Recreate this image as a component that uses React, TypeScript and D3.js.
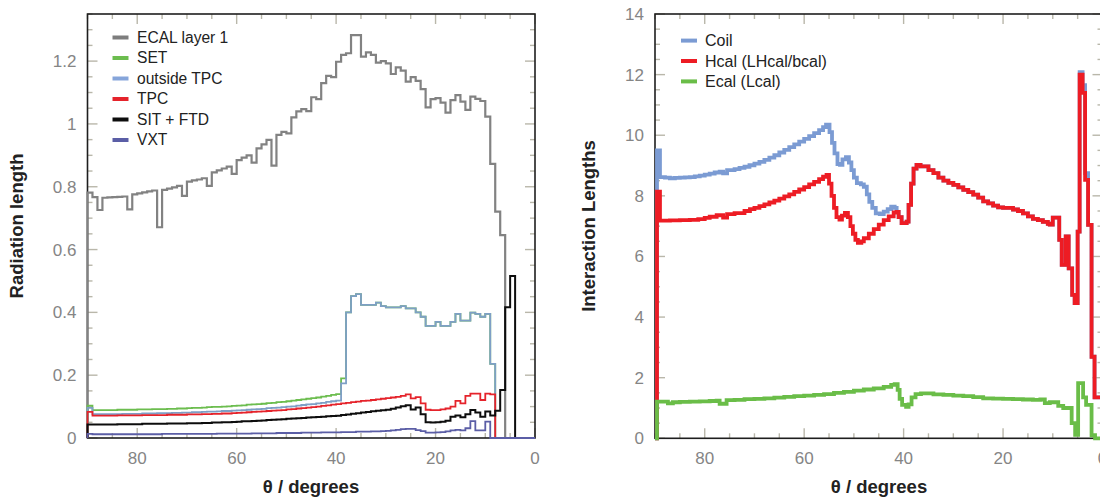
import React from 'react';
import * as d3 from 'd3';

const FONT = '"Liberation Sans", Arial, Helvetica, sans-serif';

// ---------------- Left panel: radiation length, 1-degree bins from 90 deg down to 0 deg ----------------
const ecalLayer1 = [
  0.781, 0.767, 0.726, 0.765, 0.766, 0.767, 0.768, 0.769, 0.728, 0.776,
  0.779, 0.782, 0.785, 0.788, 0.671, 0.790, 0.794, 0.798, 0.803, 0.771,
  0.816, 0.820, 0.823, 0.827, 0.803, 0.846, 0.852, 0.858, 0.864, 0.841,
  0.885, 0.893, 0.900, 0.877, 0.922, 0.935, 0.949, 0.867, 0.965, 0.975,
  0.970, 1.021, 1.040, 1.047, 1.041, 1.085, 1.079, 1.130, 1.153, 1.149,
  1.198, 1.220, 1.225, 1.283, 1.283, 1.214, 1.228, 1.220, 1.195, 1.200,
  1.193, 1.159, 1.180, 1.170, 1.135, 1.149, 1.137, 1.111, 1.053, 1.079,
  1.082, 1.068, 1.036, 1.076, 1.092, 1.071, 1.045, 1.087, 1.080, 1.073,
  1.023, 0.873, 0.721, 0.646, 0, 0, 0, 0, 0, 0,
];
const setValues = [
  0.103, 0.089, 0.089, 0.089, 0.089, 0.089, 0.090, 0.090, 0.090, 0.090,
  0.091, 0.091, 0.091, 0.092, 0.092, 0.092, 0.093, 0.093, 0.094, 0.094,
  0.095, 0.096, 0.096, 0.097, 0.098, 0.099, 0.099, 0.100, 0.101, 0.102,
  0.103, 0.104, 0.106, 0.107, 0.108, 0.109, 0.111, 0.112, 0.114, 0.115,
  0.117, 0.119, 0.121, 0.123, 0.125, 0.127, 0.129, 0.132, 0.134, 0.137,
  0.140, 0.190, 0.400, 0.452, 0.458, 0.424, 0.424, 0.424, 0.431, 0.420,
  0.416, 0.416, 0.416, 0.420, 0.413, 0.413, 0.400, 0.386, 0.357, 0.357,
  0.370, 0.357, 0.357, 0.370, 0.395, 0.374, 0.374, 0.399, 0.395, 0.386,
  0.395, 0.236, 0, 0, 0, 0, 0, 0, 0, 0,
];
const outsideTpc = [
  0.096, 0.076, 0.076, 0.076, 0.076, 0.076, 0.076, 0.077, 0.077, 0.077,
  0.077, 0.078, 0.078, 0.078, 0.079, 0.079, 0.079, 0.080, 0.080, 0.081,
  0.081, 0.082, 0.082, 0.083, 0.084, 0.084, 0.085, 0.086, 0.086, 0.087,
  0.088, 0.089, 0.090, 0.091, 0.092, 0.093, 0.095, 0.096, 0.097, 0.098,
  0.100, 0.101, 0.103, 0.105, 0.107, 0.108, 0.110, 0.112, 0.115, 0.117,
  0.119, 0.174, 0.400, 0.452, 0.458, 0.424, 0.424, 0.424, 0.431, 0.420,
  0.416, 0.416, 0.416, 0.420, 0.413, 0.413, 0.400, 0.386, 0.357, 0.357,
  0.370, 0.357, 0.357, 0.370, 0.395, 0.374, 0.374, 0.399, 0.395, 0.386,
  0.395, 0.236, 0, 0, 0, 0, 0, 0, 0, 0,
];
const tpcValues = [
  0.083, 0.071, 0.071, 0.071, 0.071, 0.071, 0.072, 0.072, 0.072, 0.072,
  0.072, 0.073, 0.073, 0.073, 0.073, 0.073, 0.074, 0.074, 0.074, 0.074,
  0.075, 0.075, 0.075, 0.076, 0.076, 0.077, 0.077, 0.078, 0.078, 0.079,
  0.080, 0.081, 0.082, 0.083, 0.084, 0.085, 0.086, 0.087, 0.088, 0.089,
  0.091, 0.092, 0.094, 0.095, 0.097, 0.098, 0.100, 0.102, 0.104, 0.106,
  0.108, 0.110, 0.112, 0.114, 0.116, 0.118, 0.119, 0.121, 0.123, 0.125,
  0.127, 0.129, 0.131, 0.134, 0.139, 0.126, 0.130, 0.110, 0.090, 0.089,
  0.089, 0.091, 0.094, 0.100, 0.118, 0.110, 0.134, 0.141, 0.141, 0.121,
  0.141, 0.139, 0, 0, 0, 0, 0, 0, 0, 0,
];
const sitFtd = [
  0.043, 0.043, 0.043, 0.043, 0.043, 0.043, 0.044, 0.044, 0.044, 0.044,
  0.044, 0.045, 0.045, 0.045, 0.045, 0.045, 0.046, 0.046, 0.046, 0.046,
  0.047, 0.047, 0.047, 0.048, 0.048, 0.049, 0.049, 0.050, 0.050, 0.051,
  0.052, 0.053, 0.053, 0.054, 0.055, 0.056, 0.057, 0.058, 0.059, 0.060,
  0.061, 0.062, 0.063, 0.064, 0.065, 0.066, 0.067, 0.068, 0.069, 0.070,
  0.071, 0.073, 0.075, 0.077, 0.079, 0.081, 0.083, 0.085, 0.087, 0.088,
  0.090, 0.093, 0.097, 0.101, 0.104, 0.091, 0.097, 0.076, 0.050, 0.049,
  0.050, 0.052, 0.055, 0.068, 0.072, 0.066, 0.076, 0.089, 0.081, 0.068,
  0.084, 0.072, 0.087, 0.153, 0.416, 0.516, 0, 0, 0, 0,
];
const vxtValues = [
  0.013, 0.012, 0.012, 0.012, 0.012, 0.012, 0.012, 0.012, 0.012, 0.012,
  0.012, 0.012, 0.012, 0.012, 0.012, 0.013, 0.013, 0.013, 0.013, 0.013,
  0.013, 0.013, 0.013, 0.013, 0.013, 0.013, 0.014, 0.014, 0.014, 0.014,
  0.014, 0.014, 0.014, 0.015, 0.015, 0.015, 0.015, 0.015, 0.016, 0.016,
  0.016, 0.016, 0.016, 0.017, 0.017, 0.017, 0.017, 0.018, 0.018, 0.018,
  0.018, 0.019, 0.019, 0.019, 0.020, 0.020, 0.020, 0.021, 0.021, 0.022,
  0.023, 0.024, 0.026, 0.028, 0.029, 0.029, 0.025, 0.022, 0.017, 0.017,
  0.018, 0.019, 0.021, 0.024, 0.026, 0.024, 0.031, 0.054, 0.024, 0.024,
  0.052, 0, 0, 0, 0, 0, 0, 0, 0, 0,
];

const leftLegend = ['ECAL layer 1', 'SET', 'outside TPC', 'TPC', 'SIT + FTD', 'VXT'];
const leftYTicks = [0, 0.2, 0.4, 0.6, 0.8, 1, 1.2];
const xTickLabels = [80, 60, 40, 20, 0];

// ---------------- Right panel: interaction lengths, [theta, value] step points ----------------
const coil: [number, number][] = [
  [90, 0], [89.6, 9.5], [89.0, 8.62], [88, 8.6], [87, 8.58], [86, 8.59], [85, 8.6], [84, 8.61], [83, 8.62],
  [82, 8.64], [81, 8.67], [80, 8.7], [79, 8.73], [78, 8.77], [77, 8.8], [76.3, 8.74], [75.5, 8.85], [74, 8.88],
  [73, 8.92], [72, 8.96], [71, 9.01], [70, 9.06], [69, 9.12], [68, 9.19], [67, 9.26], [66, 9.34], [65, 9.43],
  [64, 9.52], [63, 9.61], [62, 9.7], [61, 9.79], [60, 9.88], [59, 9.97], [58, 10.07], [57, 10.17], [56.2, 10.27],
  [55.6, 10.35], [54.9, 10.1], [54.4, 9.75], [53.9, 9.4], [53.3, 9.05], [52.8, 9.02], [52.3, 9.2], [51.6, 9.28],
  [51.0, 9.1], [50.5, 8.85], [50.0, 8.6], [49.4, 8.42], [48.6, 8.38], [48.0, 8.3], [47.4, 8.05], [46.9, 7.8],
  [46.3, 7.6], [45.6, 7.42], [44.8, 7.4], [44.0, 7.48], [43.2, 7.56], [42.5, 7.64], [41.8, 7.6], [41.4, 7.47],
  [41, 7.3], [40.4, 7.1], [39.4, 7.15], [39, 7.7], [38.5, 8.4], [38, 8.9], [37.4, 9.02], [36.6, 8.97], [35, 8.85],
  [34, 8.75], [33, 8.6], [32, 8.5], [31, 8.43], [30, 8.36], [29, 8.28], [28, 8.2], [27, 8.12], [26, 8.04],
  [25, 7.94], [24, 7.82], [23, 7.75], [22, 7.68], [21, 7.62], [20, 7.6], [19, 7.6], [18, 7.55], [17, 7.5],
  [16, 7.42], [15, 7.32], [14, 7.24], [13, 7.2], [12, 7.14], [11, 7.08], [10.6, 7.05], [10.0, 7.28], [8.7, 6.55],
  [8.2, 5.72], [7.4, 6.66], [6.8, 5.61], [6.1, 4.73], [5.6, 4.46], [5.0, 6.82], [4.6, 12.08], [4.0, 11.65],
  [3.5, 8.75], [2.9, 7.04], [2.2, 2.69], [1.6, 1.35], [0, 1.35],
];
const hcal: [number, number][] = [
  [90, 0], [89.6, 8.14], [89.0, 7.18], [87, 7.19], [85, 7.2], [83, 7.21], [81.3, 7.23], [80, 7.27], [79, 7.31],
  [77.6, 7.36], [76.3, 7.28], [75.5, 7.4], [74, 7.43], [72, 7.5], [70.9, 7.56], [70, 7.6], [69, 7.66], [68, 7.72],
  [67, 7.78], [66, 7.84], [65, 7.91], [64, 7.98], [63, 8.05], [62, 8.13], [61, 8.21], [60, 8.29], [59, 8.38],
  [58, 8.46], [57, 8.55], [56.2, 8.63], [55.5, 8.69], [55.0, 8.4], [54.5, 8.0], [54.0, 7.6], [53.5, 7.3],
  [52.9, 7.22], [52.4, 7.35], [51.8, 7.44], [51.2, 7.3], [50.7, 7.0], [50.2, 6.75], [49.7, 6.55], [49.2, 6.45],
  [48.5, 6.5], [48, 6.6], [47, 6.75], [46, 6.9], [45, 7.05], [44, 7.2], [43, 7.32], [42, 7.45], [41.4, 7.47],
  [41, 7.3], [40.4, 7.1], [39.4, 7.15], [39, 7.7], [38.5, 8.4], [38, 8.9], [37.4, 9.02], [36.6, 8.97], [35, 8.85],
  [34, 8.75], [33, 8.6], [32, 8.5], [31, 8.43], [30, 8.36], [29, 8.28], [28, 8.2], [27, 8.12], [26, 8.04],
  [25, 7.94], [24, 7.82], [23, 7.75], [22, 7.68], [21, 7.62], [20, 7.6], [19, 7.6], [18, 7.55], [17, 7.5],
  [16, 7.42], [15, 7.32], [14, 7.24], [13, 7.2], [12, 7.14], [11, 7.08], [10.6, 7.05], [10.0, 7.28], [8.7, 6.55],
  [8.2, 5.72], [7.4, 6.66], [6.8, 5.61], [6.1, 4.73], [5.6, 4.46], [5.0, 6.82], [4.6, 12.0], [4.0, 11.4],
  [3.5, 8.53], [2.9, 7.04], [2.2, 2.69], [1.6, 1.35], [0, 1.35],
];
const ecal: [number, number][] = [
  [90, 0], [89.6, 1.21], [88.5, 1.21], [87.4, 1.15], [86.4, 1.19], [85, 1.2], [83, 1.21], [81, 1.22], [79, 1.23],
  [77.6, 1.24], [77, 1.14], [75.6, 1.26], [74, 1.27], [72, 1.29], [70, 1.3], [68, 1.32], [66, 1.34], [64, 1.37],
  [62, 1.39], [60, 1.41], [58, 1.43], [56, 1.46], [54, 1.5], [52, 1.53], [50, 1.57], [48, 1.61], [46, 1.65],
  [44, 1.7], [42.5, 1.76], [41.8, 1.79], [41.2, 1.6], [40.8, 1.3], [40.3, 1.1], [39.5, 1.04], [39.0, 1.12],
  [38.4, 1.35], [37.6, 1.46], [36.5, 1.48], [34, 1.45], [32, 1.43], [30, 1.41], [28, 1.39], [26, 1.36],
  [24, 1.32], [22, 1.31], [20, 1.3], [18, 1.29], [16, 1.28], [14, 1.27], [12.5, 1.28], [11.6, 1.16],
  [10.6, 1.19], [8.9, 1.07], [7.9, 1.0], [6.2, 0.5], [5.5, 0.11], [4.9, 1.82], [3.9, 1.35], [3.3, 1.1],
  [2.2, 0.1], [1.5, 0], [0, 0],
];
const rightLegend = ['Coil', 'Hcal (LHcal/bcal)', 'Ecal (Lcal)'];
const rightYTicks = [0, 2, 4, 6, 8, 10, 12, 14];

// ---------------- helpers ----------------
function binPoints(values: number[]): [number, number][] {
  const pts: [number, number][] = [[90, 0]];
  values.forEach((v, i) => pts.push([90 - i, v]));
  pts.push([0, values[values.length - 1]]);
  return pts;
}

const TICK = '#b9b7aa';
const LABEL = '#858585';

type Sc = d3.ScaleLinear<number, number>;

function Axes({ xs, ys, yMinorStep, yMajor, yMax }: { xs: Sc; ys: Sc; yMinorStep: number; yMajor: number[]; yMax: number }) {
  const [x0, x1] = xs.range();
  const [y0, y1] = ys.range();
  const xMinor = d3.range(0, 91, 5);
  const yMinor = d3.range(0, yMax + 1e-9, yMinorStep);
  const isXMajor = (t: number) => t % 20 === 0;
  const isYMajor = (v: number) => yMajor.some((m) => Math.abs(m - v) < 1e-6);
  const els: React.ReactNode[] = [];
  xMinor.forEach((t, i) => {
    const len = isXMajor(t) ? 10 : 5;
    const x = xs(t);
    els.push(<line key={'xb' + i} x1={x} x2={x} y1={y0} y2={y0 - len} />);
    els.push(<line key={'xt' + i} x1={x} x2={x} y1={y1} y2={y1 + len} />);
  });
  yMinor.forEach((v, i) => {
    const len = isYMajor(v) ? 10 : 5;
    const y = ys(v);
    els.push(<line key={'yl' + i} x1={x0} x2={x0 + len} y1={y} y2={y} />);
    els.push(<line key={'yr' + i} x1={x1} x2={x1 - len} y1={y} y2={y} />);
  });
  return (
    <g>
      <g stroke={TICK} strokeWidth={1.4}>{els}</g>
      <rect x={x0} y={y1} width={x1 - x0} height={y0 - y1} fill="none" stroke="#1e1e1e" strokeWidth={1.6} />
      <g fontFamily={FONT} fontSize={17} fill={LABEL}>
        {xTickLabels.map((t) => (
          <text key={'xl' + t} x={xs(t)} y={463.5} textAnchor="middle">{t}</text>
        ))}
        {yMajor.map((v) => (
          <text key={'ylab' + v} x={x0 - 11} y={ys(v)} dy="0.35em" textAnchor="end">{String(v)}</text>
        ))}
      </g>
    </g>
  );
}

export default function App() {
  const lx = d3.scaleLinear().domain([90, 0]).range([87.5, 535]);
  const ly = d3.scaleLinear().domain([0, 1.35]).range([438, 14]);
  const rx = d3.scaleLinear().domain([90, 0]).range([655, 1102.5]);
  const ry = d3.scaleLinear().domain([0, 14]).range([438.3, 14]);

  const lLine = d3.line<[number, number]>().x((d) => lx(d[0])).y((d) => ly(d[1])).curve(d3.curveStepAfter);
  const rLine = d3.line<[number, number]>().x((d) => rx(d[0])).y((d) => ry(d[1])).curve(d3.curveStepAfter);

  const leftSeries = [
    { name: leftLegend[0], values: ecalLayer1, color: '#828282', legend: '#7d7d7d', w: 2.2 },
    { name: leftLegend[1], values: setValues, color: '#6cbd4f', legend: '#6cbd4f', w: 1.8 },
    { name: leftLegend[2], values: outsideTpc, color: '#7e9fc6', legend: '#86a5da', w: 1.8 },
    { name: leftLegend[3], values: tpcValues, color: '#e5232b', legend: '#e5232b', w: 1.8 },
    { name: leftLegend[4], values: sitFtd, color: '#0d0d0d', legend: '#0d0d0d', w: 2 },
    { name: leftLegend[5], values: vxtValues, color: '#5b5ea6', legend: '#5b5ea6', w: 1.8 },
  ];
  const rightSeries = [
    { name: rightLegend[0], pts: coil, color: '#7b9bd3' },
    { name: rightLegend[1], pts: hcal, color: '#ed1c24' },
    { name: rightLegend[2], pts: ecal, color: '#6abd48' },
  ];

  return (
    <svg width={1100} height={498} style={{ position: 'absolute', left: 0, top: 0, background: '#fff' }}>
      <rect x={0} y={0} width={1100} height={498} fill="#fff" />
      {/* Left panel */}
      <Axes xs={lx} ys={ly} yMinorStep={0.05} yMajor={leftYTicks} yMax={1.35} />
      <g fill="none" strokeLinejoin="miter">
        {leftSeries.map((s) => (
          <path key={s.name} d={lLine(binPoints(s.values)) || ''} stroke={s.color} strokeWidth={s.w} />
        ))}
      </g>
      <g fontFamily={FONT} fontSize={15.6} fill="#222">
        {leftSeries.map((s, i) => {
          const y = 37.5 + i * 20.5;
          return (
            <g key={'lg' + i}>
              <line x1={112.5} x2={128.5} y1={y} y2={y} stroke={s.legend} strokeWidth={4} />
              <text x={137} y={y} dy="0.35em">{s.name}</text>
            </g>
          );
        })}
      </g>
      <text
        transform="translate(23,226) rotate(-90)"
        textAnchor="middle"
        fontFamily={FONT}
        fontSize={18.5}
        fontWeight="bold"
        fill="#222"
      >
        Radiation length
      </text>
      <text x={311} y={492.5} textAnchor="middle" fontFamily={FONT} fontSize={18.5} fontWeight="bold" fill="#222">
        θ / degrees
      </text>

      {/* Right panel */}
      <Axes xs={rx} ys={ry} yMinorStep={0.5} yMajor={rightYTicks} yMax={14} />
      <g fill="none" strokeLinejoin="miter">
        {rightSeries.map((s) => (
          <path key={s.name} d={rLine(s.pts) || ''} stroke={s.color} strokeWidth={3.8} />
        ))}
      </g>
      <g fontFamily={FONT} fontSize={16} fill="#222">
        {rightSeries.map((s, i) => {
          const y = 40.6 + i * 20.4;
          return (
            <g key={'rg' + i}>
              <line x1={681} x2={697} y1={y} y2={y} stroke={s.color} strokeWidth={4} />
              <text x={705} y={y} dy="0.35em">{s.name}</text>
            </g>
          );
        })}
      </g>
      <text
        transform="translate(594.5,226) rotate(-90)"
        textAnchor="middle"
        fontFamily={FONT}
        fontSize={18.5}
        fontWeight="bold"
        fill="#222"
      >
        Interaction Lengths
      </text>
      <text x={879} y={492.5} textAnchor="middle" fontFamily={FONT} fontSize={18.5} fontWeight="bold" fill="#222">
        θ / degrees
      </text>
    </svg>
  );
}
